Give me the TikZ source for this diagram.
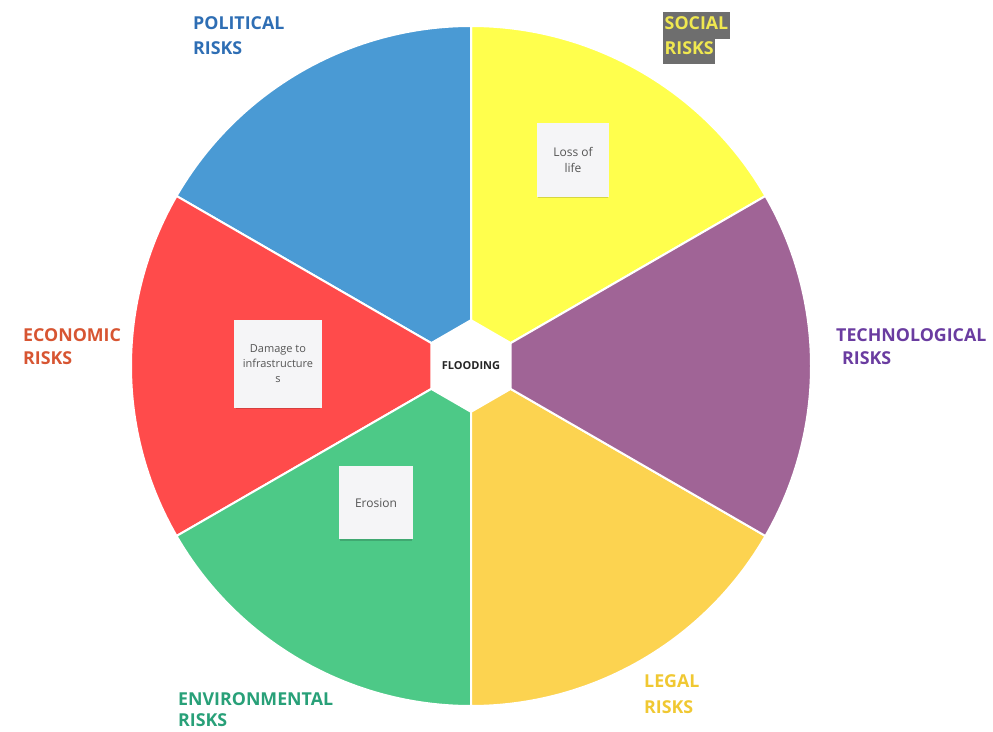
\documentclass[tikz,border=0pt]{standalone}
\usepackage{fontspec}
\setmainfont{Open Sans}
\usetikzlibrary{shadows}
\definecolor{cpol}{RGB}{74,154,212}
\definecolor{csoc}{RGB}{255,255,77}
\definecolor{ctech}{RGB}{160,100,150}
\definecolor{clegal}{RGB}{252,211,80}
\definecolor{cenv}{RGB}{77,201,135}
\definecolor{cecon}{RGB}{255,75,75}
\definecolor{tpol}{RGB}{46,110,180}
\definecolor{tsoc}{RGB}{240,232,80}
\definecolor{socbg}{RGB}{110,110,110}
\definecolor{ttech}{RGB}{106,60,160}
\definecolor{tlegal}{RGB}{240,200,50}
\definecolor{tenv}{RGB}{40,160,120}
\definecolor{tecon}{RGB}{215,85,50}
\definecolor{notefill}{RGB}{245,245,247}
\definecolor{notetext}{RGB}{85,85,85}
\begin{document}
\begin{tikzpicture}[x=1pt,y=1pt,
  sector/.style={draw=white,line width=2pt},
  risk/.style={anchor=base west,inner sep=0pt,font=\fontsize{17.8}{20}\selectfont\bfseries},
  note/.style={fill=notefill,align=center,text=notetext,inner sep=2pt,
    drop shadow={shadow xshift=0pt,shadow yshift=-3pt,shadow scale=0.96,fill=black,opacity=0.16}},
  socbox/.style={risk,fill=socbg,text=tsoc,inner xsep=1.5pt,inner ysep=0pt,text height=18pt,text depth=9pt}]
\useasboundingbox (0,0) rectangle (993,731);
\coordinate (C) at (471,365);
% sectors
\filldraw[sector,fill=csoc]   (C) -- ++(30:340pt)  arc[start angle=30,end angle=90,radius=340pt] -- cycle;
\filldraw[sector,fill=cpol]   (C) -- ++(90:340pt)  arc[start angle=90,end angle=150,radius=340pt] -- cycle;
\filldraw[sector,fill=cecon]  (C) -- ++(150:340pt) arc[start angle=150,end angle=210,radius=340pt] -- cycle;
\filldraw[sector,fill=cenv]   (C) -- ++(210:340pt) arc[start angle=210,end angle=270,radius=340pt] -- cycle;
\filldraw[sector,fill=clegal] (C) -- ++(270:340pt) arc[start angle=270,end angle=330,radius=340pt] -- cycle;
\filldraw[sector,fill=ctech]  (C) -- ++(-30:340pt) arc[start angle=-30,end angle=30,radius=340pt] -- cycle;
% centre hexagon
\begin{scope}[shift={(C)}]
\fill[white] (30:47) -- (90:47) -- (150:47) -- (210:47) -- (270:47) -- (330:47) -- cycle;
\node[font=\fontsize{11}{13}\selectfont\bfseries,text=black!85] (flood) at (0,0) {FLOODING};
\end{scope}
% sticky notes
\node[note,minimum width=72pt,minimum height=74pt,font=\fontsize{12}{16}\selectfont] (loss) at (573,571) {Loss of\\life};
\node[note,minimum width=88pt,minimum height=88pt,font=\fontsize{11}{15}\selectfont] (damage) at (278,367) {Damage to\\infrastructure\\s};
\node[note,minimum width=74pt,minimum height=73pt,font=\fontsize{12}{16}\selectfont] (erosion) at (376,228) {Erosion};
% labels
\node[risk,text=tpol] (pol1) at (193,701) {POLITICAL};
\node[risk,text=tpol] (pol2) at (193,676) {RISKS};
\node[socbox] (soc1) at (663,701) {SOCIAL};
\node[socbox] (soc2) at (663,676) {RISKS};
\node[risk,text=ttech] (tech1) at (836,389) {TECHNOLOGICAL};
\node[risk,text=ttech] (tech2) at (842,366) {RISKS};
\node[risk,text=tecon] (econ1) at (23,389) {ECONOMIC};
\node[risk,text=tecon] (econ2) at (23,366) {RISKS};
\node[risk,text=tenv] (env1) at (178,26) {ENVIRONMENTAL};
\node[risk,text=tenv] (env2) at (178,5) {RISKS};
\node[risk,text=tlegal] (leg1) at (644,44) {LEGAL};
\node[risk,text=tlegal] (leg2) at (644,18) {RISKS};
\end{tikzpicture}
\end{document}
